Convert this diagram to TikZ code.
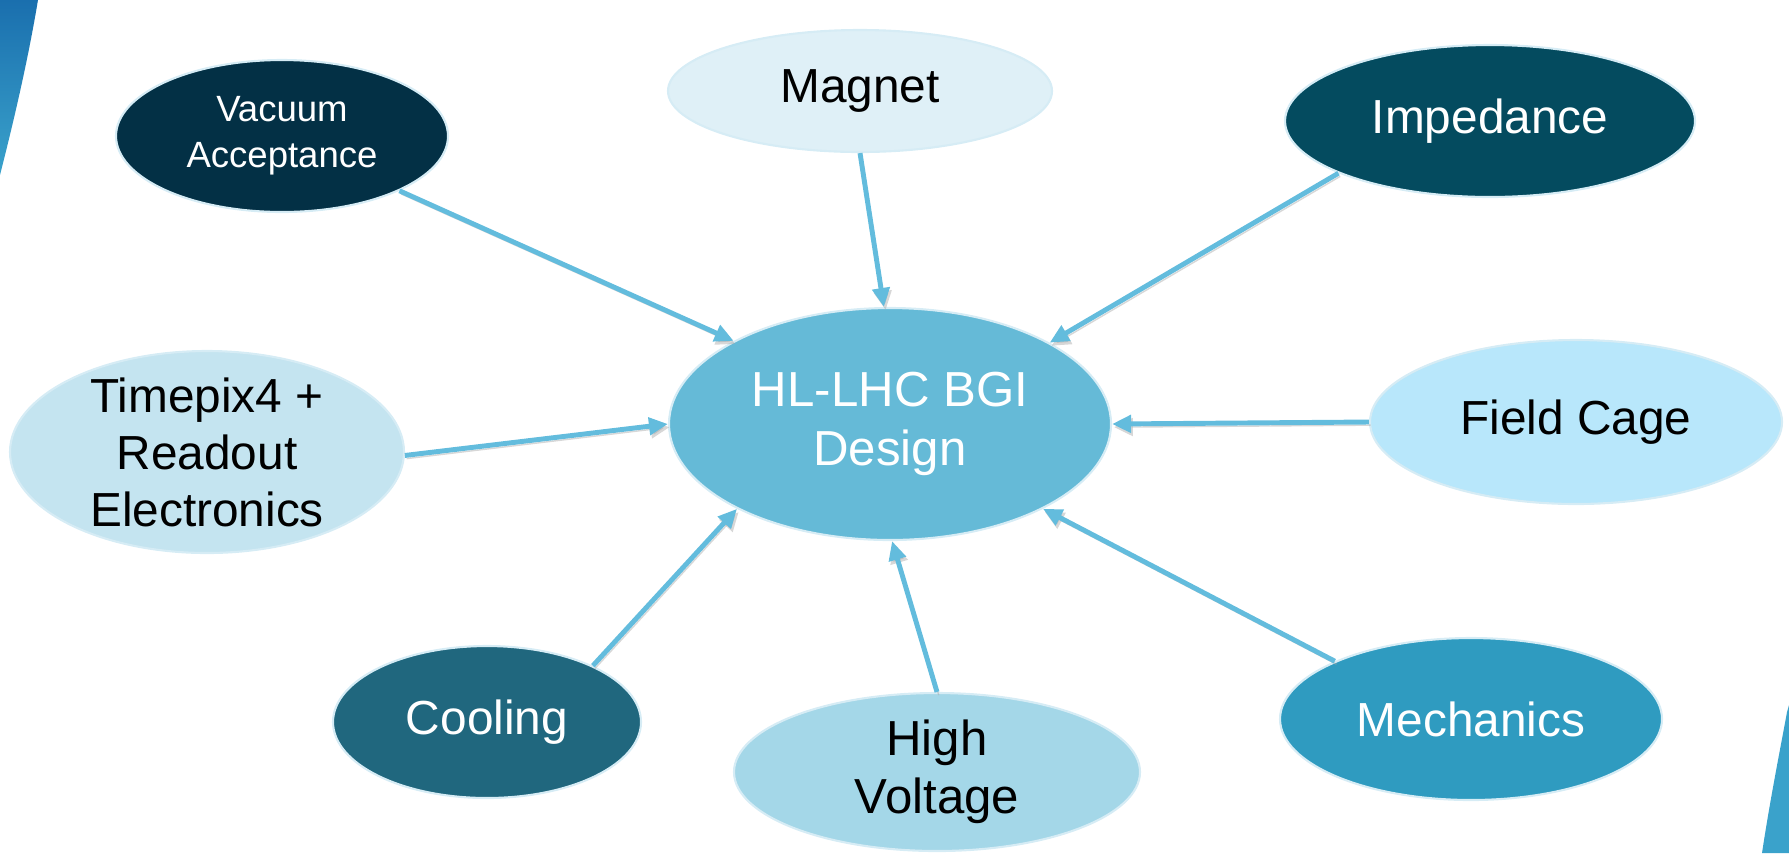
\documentclass[tikz,border=0pt]{standalone}
\usepackage{fontspec}
\setmainfont{Liberation Sans}
\usetikzlibrary{arrows.meta,shapes.geometric}
\definecolor{vacFill}{RGB}{3,48,69}
\definecolor{magnetFill}{RGB}{223,240,247}
\definecolor{impFill}{RGB}{4,75,95}
\definecolor{tpxFill}{RGB}{196,228,240}
\definecolor{hubFill}{RGB}{101,186,215}
\definecolor{cageFill}{RGB}{184,231,251}
\definecolor{coolFill}{RGB}{32,103,126}
\definecolor{hvFill}{RGB}{164,215,232}
\definecolor{mechFill}{RGB}{47,155,192}
\definecolor{rimBlue}{RGB}{214,236,245}
\definecolor{arrowBlue}{RGB}{99,188,221}
\definecolor{swooshTop}{RGB}{26,111,174}
\definecolor{swooshLow}{RGB}{58,162,203}

\begin{document}
\begin{tikzpicture}[
  x=0.1mm, y=-0.1mm,
  >=Latex,
  topic/.style={ellipse, draw=rimBlue, line width=0.6pt, inner sep=0pt,
    align=center, font=\fontsize{13.6}{16}\selectfont},
  darktopic/.style={topic, text=white},
  lighttopic/.style={topic, text=black},
  feed/.style={draw=arrowBlue, line width=1.4pt,
    -{Triangle[length=1.9mm, width=1.7mm]},
    preaction={draw=black!35, opacity=0.45,
      transform canvas={shift={(0.5pt,-0.9pt)}}}}
]
\useasboundingbox (0,0) rectangle (1789,853);

% Slide edge accents.
\shade[top color=swooshTop, bottom color=swooshLow]
  (0,0) -- (38,0) .. controls (28,60) and (14,120) .. (0,175) -- cycle;
\fill[swooshLow]
  (1789,705) -- (1789,853) -- (1762,853)
  .. controls (1770,800) and (1780,750) .. (1787,712) -- cycle;

% Central design goal.
\node[lighttopic, fill=hubFill, text=white, minimum width=44.2mm,
  minimum height=23.2mm, font=\fontsize{14}{16.8}\selectfont]
  (hub) at (890,424) {HL-LHC BGI\\Design};

% Contributing topics around it.
\node[darktopic, fill=vacFill, minimum width=33.2mm, minimum height=15.2mm,
  font=\fontsize{10.4}{13}\selectfont] (vac) at (282,136) {Vacuum\\Acceptance};
\node[lighttopic, fill=magnetFill, minimum width=38.4mm, minimum height=12.2mm]
  (magnet) at (860,91) {Magnet};
\node[darktopic, fill=impFill, minimum width=41mm, minimum height=15.2mm]
  (imp) at (1490,121) {Impedance};
\node[lighttopic, fill=tpxFill, minimum width=39.4mm, minimum height=20.2mm,
  inner ysep=-12pt, font=\fontsize{13.6}{16.2}\selectfont]
  (tpx) at (207,452) {Timepix4 +\\Readout\\Electronics};
\node[lighttopic, fill=cageFill, minimum width=41.2mm, minimum height=16.4mm]
  (cage) at (1576,422) {Field Cage};
\node[darktopic, fill=coolFill, minimum width=30.8mm, minimum height=15.2mm]
  (cool) at (487,722) {Cooling};
\node[lighttopic, fill=hvFill, minimum width=40.6mm, minimum height=15.8mm,
  font=\fontsize{14}{16.4}\selectfont]
  (hv) at (937,772) {High\\Voltage};
\node[darktopic, fill=mechFill, minimum width=38.2mm, minimum height=16.2mm]
  (mech) at (1471,719) {Mechanics};

% Inputs feeding the design.
\draw[feed] (vac.-25) -- (hub.152.6);
\draw[feed] (magnet.270) -- (hub.93);
\draw[feed] (imp.199.7) -- (hub.27.9);
\draw[feed] (tpx.-1) -- (hub.180);
\draw[feed] (cage.180) -- (hub.0);
\draw[feed] (cool.28.6) -- (hub.209);
\draw[feed] (hv.90) -- (hub.271.4);
\draw[feed] (mech.157.6) -- (hub.-29);

\end{tikzpicture}
\end{document}
